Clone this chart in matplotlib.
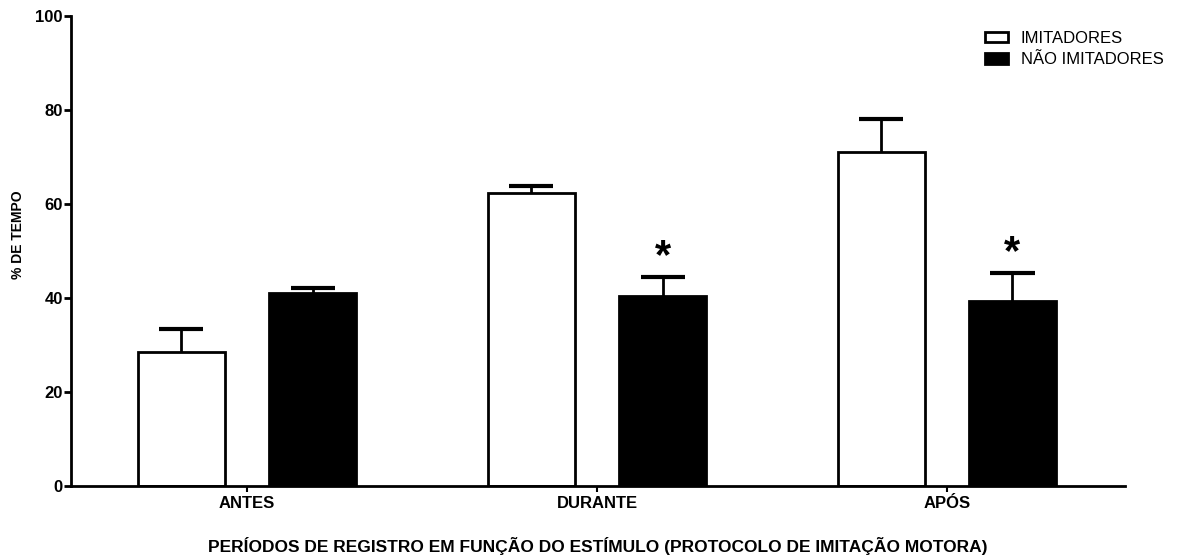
import matplotlib
matplotlib.use("Agg")
import matplotlib.pyplot as plt
import numpy as np

plt.rcParams['font.family'] = ['Liberation Sans', 'DejaVu Sans']

# dados: media e erro padrao (%) por periodo
periodos = ['ANTES', 'DURANTE', 'APÓS']
imitadores = [28.5, 62.3, 71.1]
imitadores_ep = [4.9, 1.5, 7.0]
nao_imitadores = [41.1, 40.4, 39.4]
nao_imitadores_ep = [1.0, 4.1, 5.9]
significativo = [False, True, True]

x = np.arange(len(periodos))
w = 0.25
d = 0.1875
cap = 0.063

fig = plt.figure(figsize=(11.78, 5.6), dpi=100)
ax = fig.add_axes([0.0603, 0.1321, 0.8947, 0.8393])

ax.bar(x - d, imitadores, w, color='white', edgecolor='black', linewidth=2,
       label='IMITADORES', zorder=2)
ax.bar(x + d, nao_imitadores, w, color='black', edgecolor='black', linewidth=2,
       label='NÃO IMITADORES', zorder=2)

# so a metade superior da barra de erro
for xs, m, ep in [(x - d, imitadores, imitadores_ep), (x + d, nao_imitadores, nao_imitadores_ep)]:
    topo = np.array(m) + np.array(ep)
    ax.vlines(xs, m, topo, colors='black', linewidth=2, zorder=1)
    ax.hlines(topo, xs - cap, xs + cap, colors='black', linewidth=3, zorder=1)

for i, s in enumerate(significativo):
    if s:
        topo = nao_imitadores[i] + nao_imitadores_ep[i]
        ax.text(x[i] + d, topo + 4.2, '*', ha='center', va='center',
                fontsize=30, fontweight='bold')

ax.set_xlim(-0.503, 2.509)
ax.set_ylim(0, 100)
ax.set_yticks([0, 20, 40, 60, 80, 100])
ax.set_xticks(x)
ax.set_xticklabels(periodos, fontweight='bold', fontsize=12)
for t in ax.get_yticklabels():
    t.set_fontweight('bold')
    t.set_fontsize(12)

for s in ['top', 'right']:
    ax.spines[s].set_visible(False)
for s in ['left', 'bottom']:
    ax.spines[s].set_linewidth(2)
ax.tick_params(axis='y', length=5, width=2, pad=1)
ax.tick_params(axis='x', length=4, width=1.5, pad=3)

ax.set_ylabel('% DE TEMPO', fontweight='bold', fontsize=10)
ax.yaxis.set_label_coords(-0.0436, 0.535)
ax.set_xlabel('PERÍODOS DE REGISTRO EM FUNÇÃO DO ESTÍMULO (PROTOCOLO DE IMITAÇÃO MOTORA)',
              fontweight='bold', fontsize=12.5)
ax.xaxis.set_label_coords(0.5, -0.108)

ax.legend(loc='upper left', bbox_to_anchor=(0.853, 1.0), frameon=False,
          fontsize=12, handlelength=1.38, handleheight=0.6, handletextpad=0.75,
          labelspacing=0.37, borderaxespad=0.5)

fig.savefig('out.png', dpi=100)
